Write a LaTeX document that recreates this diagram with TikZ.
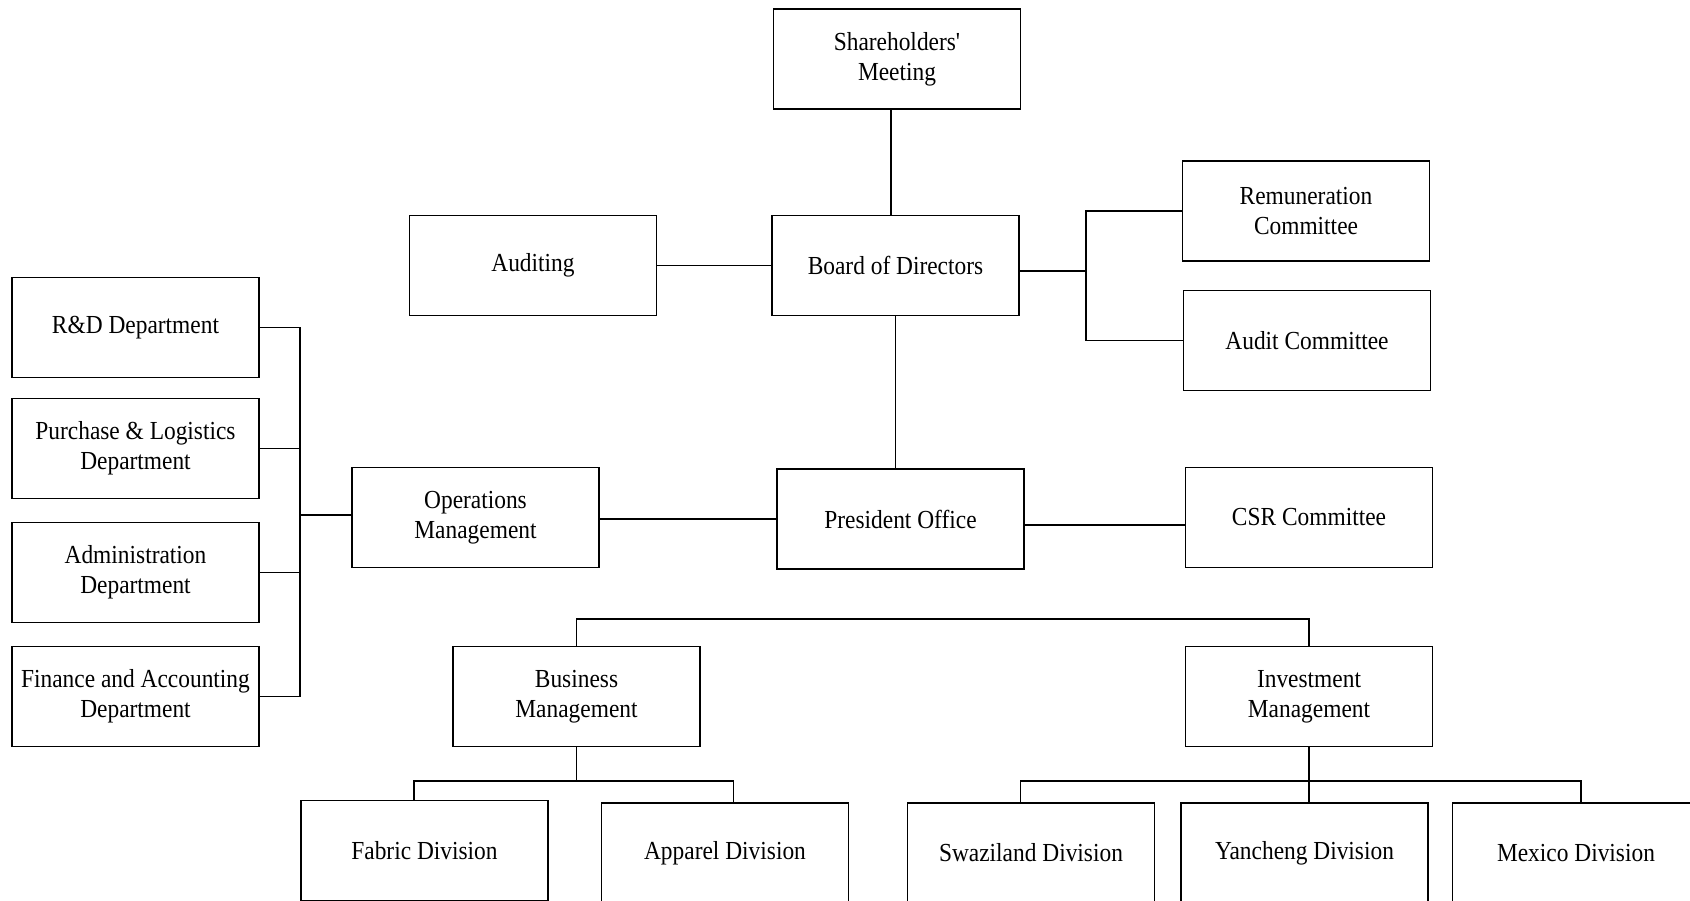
\documentclass[tikz,border=0pt]{standalone}
\usepackage{fontspec}
\newfontfamily\boxfont{Liberation Serif}[FakeStretch=0.9]
\usetikzlibrary{calc}
\begin{document}
\begin{tikzpicture}[x=1pt,y=-1pt,
  box/.style={draw, line width=1.3pt, minimum width=247pt, minimum height=100pt,
    align=center, inner sep=0pt, font=\boxfont\fontsize{26}{30}\selectfont},
  link/.style={line width=1.3pt}]
\useasboundingbox (0,0) rectangle (1690,900);
% nodes
\node[box] (sh)  at (897,59)     {Shareholders'\\Meeting};
\node[box] (aud) at (533,265.5)  {Auditing};
\node[box] (bod) at (895.5,265.5){Board of Directors};
\node[box] (rem) at (1306,211)   {Remuneration\\Committee};
\node[box] (ac)  at (1307,340.5) {Audit Committee};
\node[box] (rd)  at (135.5,327.5){R\&D Department};
\node[box] (pl)  at (135.5,448.5){Purchase \& Logistics\\Department};
\node[box] (ad)  at (135.5,572.5){Administration\\Department};
\node[box] (fa)  at (135.5,696.5){Finance and Accounting\\Department};
\node[box] (ops) at (475.5,517.5){Operations\\Management};
\node[box] (pre) at (900.5,519)  {President Office};
\node[box] (csr) at (1309,517.5) {CSR Committee};
\node[box] (biz) at (576.5,696.5){Business\\Management};
\node[box] (inv) at (1309,696.5) {Investment\\Management};
\node[box] (fab) at (424.5,850.5){Fabric Division};
\node[box] (app) at (725,853)    {Apparel Division};
\node[box] (swa) at (1031,853)   {Swaziland Division};
\node[box] (yan) at (1304.5,853) {Yancheng Division};
\node[box] (mex) at (1576,853)   {Mexico Division};
% helper coordinates
\coordinate (bj) at (1086,271);
\coordinate (lj) at (300,515);
\coordinate (topbus) at (0,619);
\coordinate (bbus) at (0,781);
\coordinate (fabT) at ($(fab.north)+(-10.5,0)$);
\coordinate (appT) at ($(app.north)+(8.5,0)$);
\coordinate (swaT) at ($(swa.north)+(-10.5,0)$);
\coordinate (mexT) at ($(mex.north)+(5,0)$);
\coordinate (shB) at ($(sh.south)+(-6,0)$);
\coordinate (preE) at ($(pre.east)+(0,6)$);
% connectors
\draw[link] (shB) -- (shB |- bod.north);
\draw[link] (aud.east) -- (aud.east -| bod.west);
\draw[link] (bod.east |- bj) -- (bj);
\draw[link] (rem.west) -| (bj) |- (ac.west);
\draw[link] (bod.south) -- (bod.south |- pre.north);
\draw[link] (ops.east |- pre.west) -- (pre.west);
\draw[link] (preE) -- (preE -| csr.west);
\draw[link] (ops.west |- lj) -- (lj);
\draw[link] (rd.east) -| (lj) |- (fa.east);
\draw[link] (pl.east) -- (pl.east -| lj);
\draw[link] (ad.east) -- (ad.east -| lj);
\draw[link] (biz.north) |- (inv.north |- topbus) -- (inv.north);
\draw[link] (biz.south) -- (biz.south |- bbus);
\draw[link] (fabT) |- (appT |- bbus) -- (appT);
\draw[link] (inv.south) -- (inv.south |- yan.north);
\draw[link] (swaT) |- (mexT |- bbus) -- (mexT);
\end{tikzpicture}
\end{document}
